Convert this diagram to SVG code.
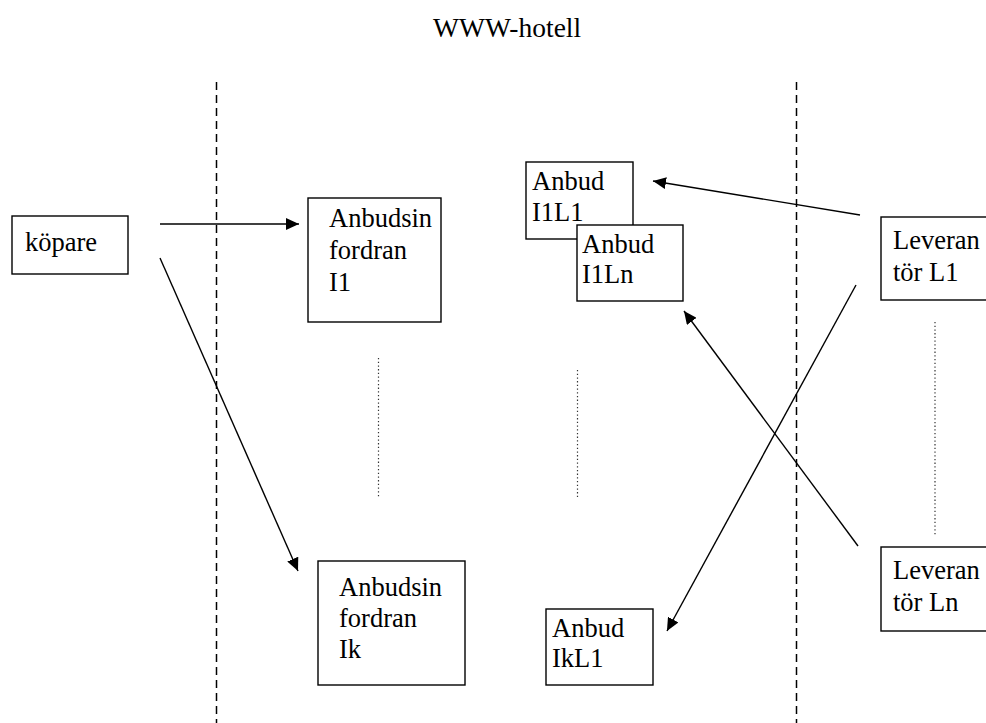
<svg xmlns="http://www.w3.org/2000/svg" width="986" height="723" viewBox="0 0 986 723">
<style>
text{font-family:"Liberation Serif","Times New Roman",serif;font-size:26.5px;fill:#000}
.box{fill:#fff;stroke:#000;stroke-width:1.4}
.dash{stroke:#000;stroke-width:1.5;stroke-dasharray:8 5;fill:none}
.dot{stroke:#333;stroke-width:1.2;stroke-dasharray:1.3 2.4;fill:none}
.arr{stroke:#000;stroke-width:1.4;fill:none;marker-end:url(#ah)}
</style>
<defs>
<marker id="ah" markerUnits="userSpaceOnUse" markerWidth="14" markerHeight="12" refX="13" refY="6" orient="auto">
<path d="M0,0 L13,6 L0,12 Z" fill="#000"/>
</marker>
</defs>
<rect width="986" height="723" fill="#fff"/>
<text id="title" x="433" y="37" style="font-size:27.5px">WWW-hotell</text>
<g id="guides">
<line class="dash" x1="216.5" y1="82" x2="216.5" y2="723"/>
<line class="dash" x1="796.5" y1="82" x2="796.5" y2="723"/>
<line class="dot" x1="378.5" y1="358" x2="378.5" y2="497"/>
<line class="dot" x1="577.5" y1="370" x2="577.5" y2="497"/>
<line class="dot" x1="935" y1="322" x2="935" y2="536"/>
</g>
<g id="kopare"><rect class="box" x="12" y="216" width="116" height="58"/><text x="25" y="251">köpare</text></g>
<g id="I1"><rect class="box" x="308" y="198" width="133" height="124"/><text x="329" y="227">Anbudsin</text><text x="329" y="259">fordran</text><text x="329" y="291">I1</text></g>
<g id="Ik"><rect class="box" x="318" y="561" width="147" height="124"/><text x="339" y="596">Anbudsin</text><text x="339" y="627">fordran</text><text x="339" y="658">Ik</text></g>
<g id="I1L1"><rect class="box" x="526" y="162" width="107" height="77"/><text x="532" y="190">Anbud</text><text x="532" y="221">I1L1</text></g>
<g id="I1Ln"><rect class="box" x="577" y="225" width="106" height="76"/><text x="582" y="253">Anbud</text><text x="582" y="283">I1Ln</text></g>
<g id="IkL1"><rect class="box" x="546" y="609" width="107" height="76"/><text x="552" y="637">Anbud</text><text x="552" y="667">IkL1</text></g>
<g id="L1"><rect class="box" x="881" y="217" width="120" height="83"/><text x="893" y="249">Leveran</text><text x="893" y="281">tör L1</text></g>
<g id="Ln"><rect class="box" x="881" y="547" width="120" height="84"/><text x="893" y="579">Leveran</text><text x="893" y="611">tör Ln</text></g>
<g id="connectors">
<line class="arr" x1="160" y1="224" x2="299" y2="224"/>
<line class="arr" x1="160" y1="258" x2="298" y2="571"/>
<line class="arr" x1="860" y1="215" x2="653" y2="181"/>
<line class="arr" x1="856" y1="285" x2="667" y2="631"/>
<line class="arr" x1="858" y1="546" x2="684" y2="311"/>
</g>
</svg>
